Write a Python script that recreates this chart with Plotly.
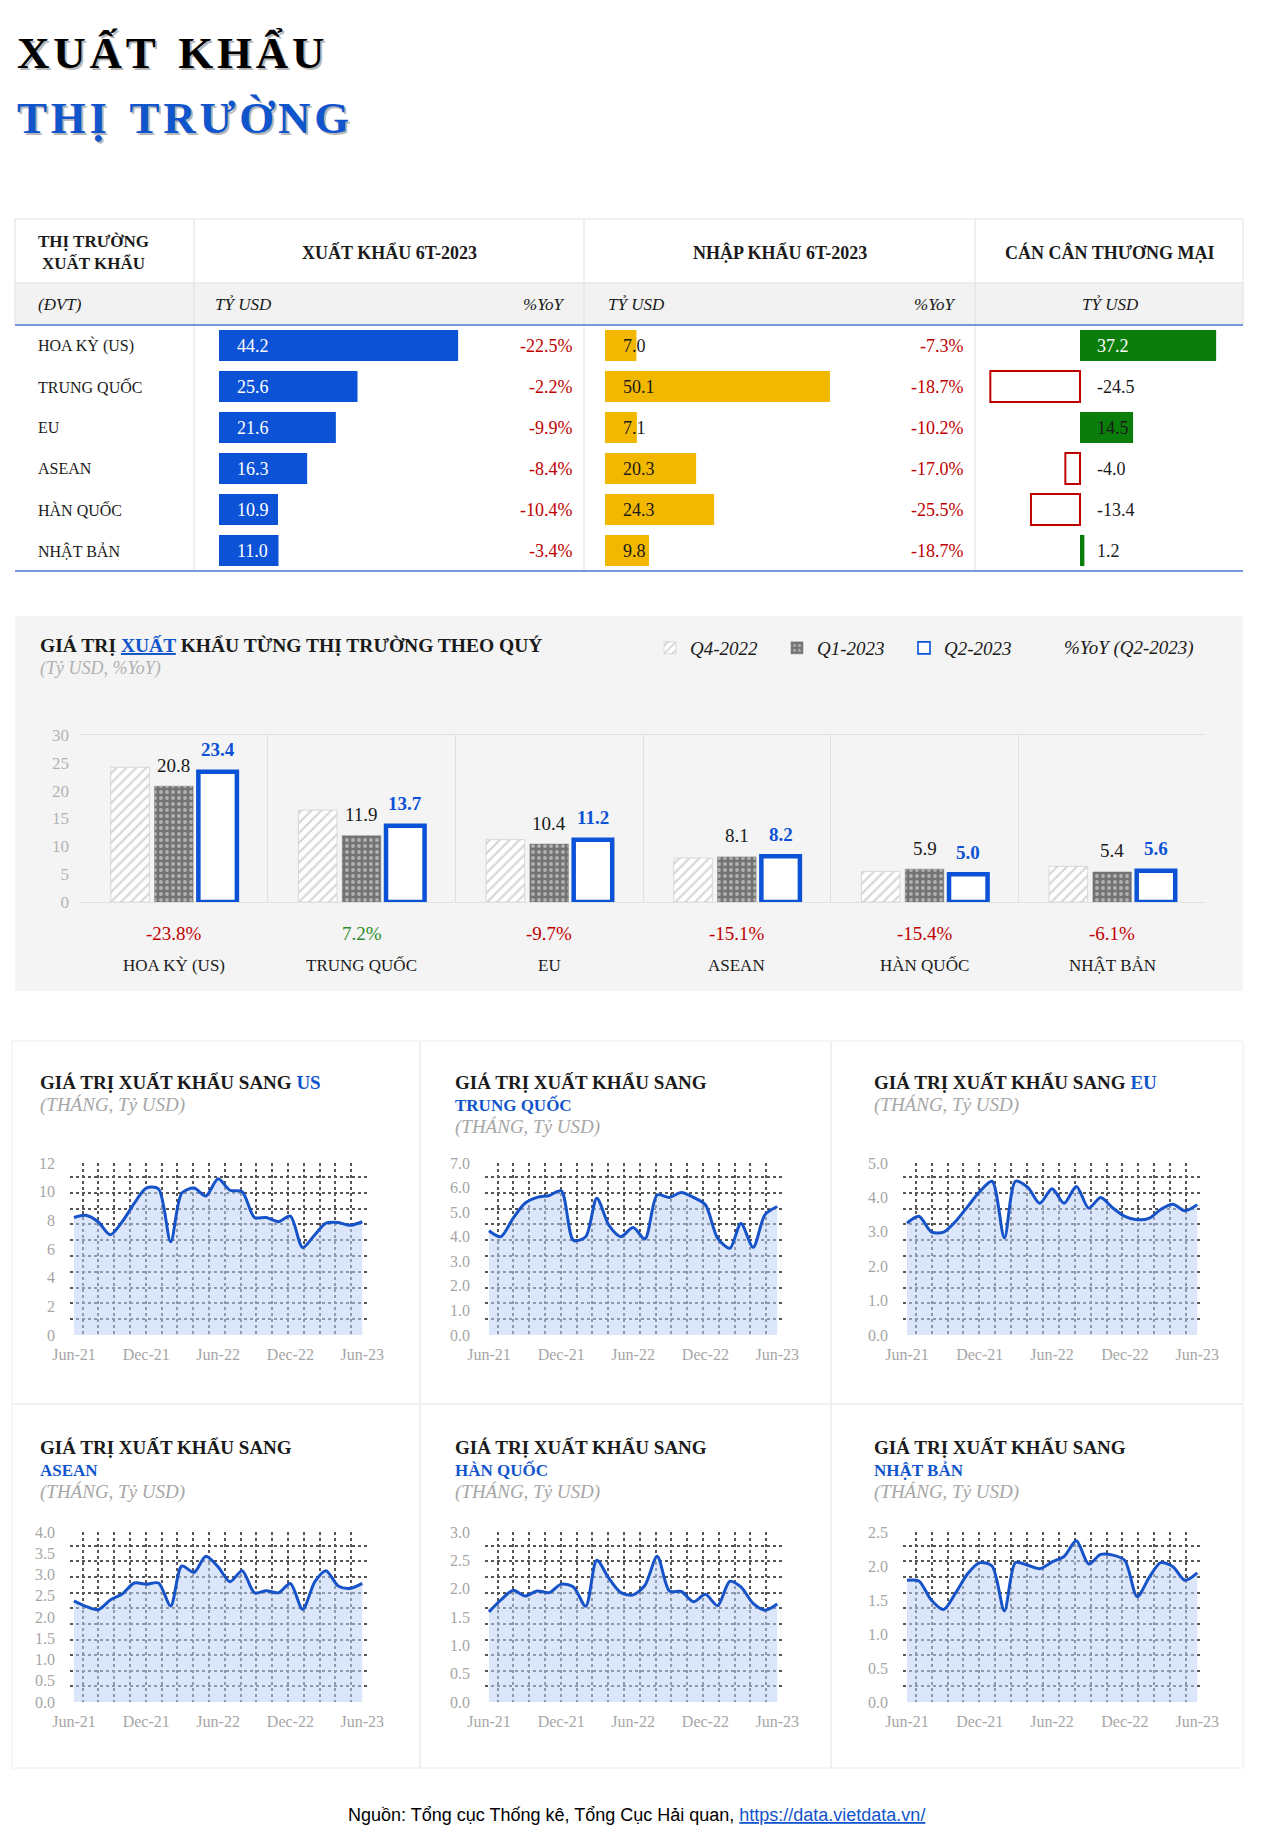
import pandas as pd
import plotly.graph_objects as go

W, H = 1280, 1839


def fx(x):
    return x / W


def fy(y):
    return 1 - y / H


SERIF = "Liberation Serif, Times New Roman, serif"
SANS = "Liberation Sans, Arial, sans-serif"
INK = "#1a1a1a"
BLUE_TXT = "#1155cc"
BAR_BLUE = "#0b52d6"
GOLD = "#f2b800"
GREEN = "#0b7d0b"
RED = "#c00000"
POS_GREEN = "#2e8b2e"
GRAY_TXT = "#a6a6a6"
LINE_BLUE = "#1652c8"

# ---- table: 6 months 2023 ----
markets = ["HOA KỲ (US)", "TRUNG QUỐC", "EU", "ASEAN", "HÀN QUỐC", "NHẬT BẢN"]
export_6t = [44.2, 25.6, 21.6, 16.3, 10.9, 11.0]
export_yoy = [-22.5, -2.2, -9.9, -8.4, -10.4, -3.4]
import_6t = [7.0, 50.1, 7.1, 20.3, 24.3, 9.8]
import_yoy = [-7.3, -18.7, -10.2, -17.0, -25.5, -18.7]
balance = [37.2, -24.5, 14.5, -4.0, -13.4, 1.2]

# ---- quarterly exports ----
quarters = ["Q4-2022", "Q1-2023", "Q2-2023"]
q4_2022 = [24.2, 16.5, 11.2, 7.9, 5.5, 6.4]
q1_2023 = [20.8, 11.9, 10.4, 8.1, 5.9, 5.4]
q2_2023 = [23.4, 13.7, 11.2, 8.2, 5.0, 5.6]
yoy_q2 = [-23.8, 7.2, -9.7, -15.1, -15.4, -6.1]

# ---- monthly exports Jun-21 .. Jun-23 ----
months = pd.date_range("2021-06-01", "2023-06-01", freq="MS")
us = [8.2, 8.35, 7.9, 7.0, 7.9, 9.2, 10.25, 10.2, 6.5, 9.9, 10.25, 9.7, 10.9,
      10.1, 10.0, 8.2, 8.2, 7.9, 8.3, 6.1, 7.0, 7.8, 7.85, 7.65, 7.9]
tq = [4.24, 4.0, 4.75, 5.37, 5.6, 5.68, 5.87, 3.85, 4.0, 5.57, 4.46, 4.0, 4.37,
      3.91, 5.7, 5.6, 5.8, 5.6, 5.3, 3.94, 3.53, 4.54, 3.57, 4.9, 5.23]
eu = [3.25, 3.45, 3.0, 2.99, 3.3, 3.74, 4.17, 4.47, 2.82, 4.47, 4.29, 3.83, 4.25,
      3.83, 4.32, 3.69, 4.0, 3.69, 3.45, 3.35, 3.4, 3.65, 3.8, 3.61, 3.79]
asean = [2.38, 2.25, 2.17, 2.4, 2.54, 2.8, 2.77, 2.8, 2.26, 3.2, 3.05, 3.43, 3.18,
         2.83, 3.09, 2.57, 2.62, 2.57, 2.79, 2.18, 2.83, 3.09, 2.73, 2.67, 2.79]
hq = [1.59, 1.8, 1.97, 1.87, 1.96, 1.93, 2.08, 2.03, 1.69, 2.5, 2.18, 1.93, 1.89,
      2.06, 2.57, 1.96, 1.95, 1.77, 1.9, 1.7, 2.13, 2.03, 1.74, 1.62, 1.73]
nb = [1.79, 1.78, 1.5, 1.36, 1.6, 1.89, 2.05, 2.0, 1.34, 2.05, 2.01, 1.96, 2.06,
      2.14, 2.37, 2.03, 2.17, 2.16, 2.08, 1.55, 1.84, 2.05, 1.99, 1.79, 1.9]

fig = go.Figure()
annotations = []
shapes = []


def note(text, x, y, size=16, color=INK, xanchor="left", xref="paper",
         yref="paper", family=SERIF, yanchor="middle", **kw):
    d = dict(text=text, x=x, y=y, xref=xref, yref=yref, xanchor=xanchor,
             yanchor=yanchor, showarrow=False,
             font=dict(family=family, size=size, color=color))
    d.update(kw)
    annotations.append(d)


def line(x0, y0, x1, y1, color="#e0e0e0", width=1):
    shapes.append(dict(type="line", xref="paper", yref="paper",
                       x0=fx(x0), y0=fy(y0), x1=fx(x1), y1=fy(y1),
                       line=dict(color=color, width=width)))


def rect(x0, y0, x1, y1, fill=None, color=None, width=1):
    shapes.append(dict(type="rect", xref="paper", yref="paper", layer="below",
                       x0=fx(x0), y0=fy(y0), x1=fx(x1), y1=fy(y1),
                       fillcolor=fill or "rgba(0,0,0,0)",
                       line=dict(color=color or "rgba(0,0,0,0)", width=width)))


# ---- big title ----
def spaced(s):
    return "\u2002".join("\u200a".join(w) for w in s.split())


for txt, yc, col in [("XUẤT KHẨU", 52, "#000000"), ("THỊ TRƯỜNG", 118, BLUE_TXT)]:
    note(f"<b>{spaced(txt)}</b>", fx(15), fy(yc), size=45, color="rgba(0,0,0,0.28)",
         xshift=2, yshift=-2)
    note(f"<b>{spaced(txt)}</b>", fx(15), fy(yc), size=45, color=col)

# ---- table ----
rect(15, 283, 1243, 325, fill="#f2f2f2")
line(15, 219, 1243, 219)
line(15, 219, 15, 325)
line(1243, 219, 1243, 325)
line(15, 283, 1243, 283)
for xv in [194, 584, 975]:
    line(xv, 219, xv, 571)
line(15, 325, 1243, 325, color="#4a78d0", width=1.5)
line(15, 571, 1243, 571, color="#4a78d0", width=1.5)

note("<b>THỊ TRƯỜNG<br>XUẤT KHẨU</b>", fx(36), fy(252), size=17)
note("<b>XUẤT KHẨU 6T-2023</b>", fx(389), fy(252), size=18, xanchor="center")
note("<b>NHẬP KHẨU 6T-2023</b>", fx(780), fy(252), size=18, xanchor="center")
note("<b>CÁN CÂN THƯƠNG MẠI</b>", fx(1110), fy(252), size=18, xanchor="center")
note("<i>(ĐVT)</i>", fx(36), fy(304), size=17)
note("<i>TỶ USD</i>", fx(213), fy(304), size=17)
note("<i>%YoY</i>", fx(567), fy(304), size=17, xanchor="right")
note("<i>TỶ USD</i>", fx(606), fy(304), size=17)
note("<i>%YoY</i>", fx(958), fy(304), size=17, xanchor="right")
note("<i>TỶ USD</i>", fx(1110), fy(304), size=17, xanchor="center")

fig.add_trace(go.Bar(y=markets, x=export_6t, orientation="h", width=0.76,
                     marker=dict(color=BAR_BLUE, line=dict(width=0)),
                     xaxis="x", yaxis="y", showlegend=False, hoverinfo="skip"))
fig.add_trace(go.Bar(y=markets, x=import_6t, orientation="h", width=0.76,
                     marker=dict(color=GOLD, line=dict(width=0)),
                     xaxis="x2", yaxis="y2", showlegend=False, hoverinfo="skip"))
fig.add_trace(go.Bar(y=markets, x=balance, orientation="h", width=0.76,
                     marker=dict(color=[GREEN if v > 0 else "white" for v in balance],
                                 line=dict(color=[GREEN if v > 0 else RED for v in balance],
                                           width=[0 if v > 0 else 2 for v in balance])),
                     xaxis="x3", yaxis="y3", showlegend=False, hoverinfo="skip"))

for m, ev, ey, iv, iy, bv in zip(markets, export_6t, export_yoy, import_6t,
                                 import_yoy, balance):
    note(m, fx(36), m, yref="y", size=16)
    note(f"{ev:.1f}", 0, m, xref="x", yref="y", xshift=16, size=18, color="white")
    note(f"{ey:.1f}%", fx(575), m, yref="y", size=18, color=RED, xanchor="right")
    note(f"{iv:.1f}", 0, m, xref="x2", yref="y2", xshift=16, size=18)
    note(f"{iy:.1f}%", fx(966), m, yref="y", size=18, color=RED, xanchor="right")
    note(f"{bv:.1f}", 0, m, xref="x3", yref="y3", xshift=15, size=18,
         color="white" if bv > 20 else INK)

# ---- quarterly bar chart ----
rect(15, 616, 1243, 991, fill="#f4f4f4")
note("<b>GIÁ TRỊ <span style='color:#1155cc;text-decoration:underline'>XUẤT</span>"
     " KHẨU TỪNG THỊ TRƯỜNG THEO QUÝ</b>", fx(38), fy(645), size=19.5)
note("<i>(Tỷ USD, %YoY)</i>", fx(38), fy(669), size=18, color="#b0b0b0")
note("<i>%YoY (Q2-2023)</i>", fx(1062), fy(648), size=19)

q4_marker = dict(color="white", line=dict(color="#d0d0d0", width=0.8),
                 pattern=dict(shape="/", fgcolor="#aaaaaa", size=7, solidity=0.3,
                              fillmode="overlay"))
q1_marker = dict(color="#737373", line=dict(color="#737373", width=0.5),
                 pattern=dict(shape=".", fgcolor="#f2f2f2", size=6, solidity=0.32,
                              fillmode="overlay"))
q2_marker = dict(color="white", line=dict(color=BAR_BLUE, width=4.5))

for vals, mk in zip([q4_2022, q1_2023, q2_2023], [q4_marker, q1_marker, q2_marker]):
    fig.add_trace(go.Bar(x=markets, y=vals, xaxis="x4", yaxis="y4", hoverinfo="skip",
                         marker=mk, showlegend=False))

# legend entries (drawn on a hidden subplot so the icons can use thin outlines)
legend_markers = [q4_marker, q1_marker,
                  dict(color="white", line=dict(color=BAR_BLUE, width=1.6))]
for q, mk in zip(quarters, legend_markers):
    fig.add_trace(go.Bar(x=[q], y=[0], name=q, marker=mk, xaxis="x11", yaxis="y11",
                         hoverinfo="skip"))

# value labels over Q1 (middle bar) and Q2 (right bar); 43.8 px = one bar slot
for m, a, b in zip(markets, q1_2023, q2_2023):
    note(f"{a:.1f}", m, a, xref="x4", yref="y4", xanchor="center", size=19,
         yshift=21)
    note(f"<b>{b:.1f}</b>", m, b, xref="x4", yref="y4", xanchor="center", size=19,
         color=BAR_BLUE, xshift=43.8, yshift=22)

for m, v in zip(markets, yoy_q2):
    note(f"{v:.1f}%", m, fy(933), xref="x4", size=19, xanchor="center",
         color=RED if v < 0 else POS_GREEN)
    note(m, m, fy(965), xref="x4", size=17, xanchor="center")

# ---- monthly small multiples ----
small = [("US", us, True), ("TRUNG QUỐC", tq, False), ("EU", eu, True),
         ("ASEAN", asean, False), ("HÀN QUỐC", hq, False), ("NHẬT BẢN", nb, False)]
y_max = [12, 7, 5, 4, 3, 2.5]
y_step = [2, 1, 1, 0.5, 0.5, 0.5]
col_x = [(70, 367), (485, 782), (903, 1202)]
col_title_x = [38, 453, 872]
row_y = [(1163, 1335), (1532, 1702)]
row_title_y = [1082, 1447]

col_edges = [12, 420, 831, 1243]
row_edges = [1041, 1404, 1768]
for i in range(3):
    for j in range(2):
        rect(col_edges[i], row_edges[j], col_edges[i + 1], row_edges[j + 1],
             color="#ececec", width=1)

x_rng = [str(months[0] - pd.Timedelta(days=10)), str(months[-1] + pd.Timedelta(days=12))]
axes = {}
for k, (name, vals, inline) in enumerate(small):
    n = k + 5
    c, r = k % 3, k // 3
    ax = f"x{n}"
    ay = f"y{n}"
    fig.add_trace(go.Scatter(
        x=months, y=vals, mode="lines", xaxis=ax, yaxis=ay, showlegend=False,
        hoverinfo="skip", line=dict(color=LINE_BLUE, width=3, shape="spline",
                                    smoothing=0.8),
        fill="tozeroy", fillcolor="rgba(190,210,245,0.55)"))
    ymax = y_max[k]
    axes[f"xaxis{n}"] = dict(
        domain=[fx(col_x[c][0]), fx(col_x[c][1])], anchor=ay, type="date",
        range=x_rng, tick0="2021-06-01", dtick="M6", tickformat="%b-%y",
        showgrid=False, zeroline=False, showline=False, ticks="", automargin=False,
        ticklabelstandoff=8, tickfont=dict(family=SERIF, size=16, color=GRAY_TXT),
        minor=dict(showgrid=True, gridcolor="#555555", griddash="dot", gridwidth=1.6,
                   dtick=40 * 86400000, tick0="2021-06-23"))
    axes[f"yaxis{n}"] = dict(
        domain=[fy(row_y[r][1]), fy(row_y[r][0])], anchor=ax, range=[0, ymax],
        dtick=y_step[k], tickformat="d" if k == 0 else ".1f",
        showgrid=False, zeroline=False, showline=False, ticks="", automargin=False,
        ticklabelstandoff=14, tickfont=dict(family=SERIF, size=16, color=GRAY_TXT),
        minor=dict(showgrid=True, gridcolor="#555555", griddash="dot", gridwidth=1.6,
                   dtick=ymax * 15.8 / 172, tick0=0))
    tx, ty = col_title_x[c], row_title_y[r]
    head = "<b>GIÁ TRỊ XUẤT KHẨU SANG"
    if inline:
        note(f"{head} <span style='color:{BLUE_TXT}'>{name}</span></b>", fx(tx), fy(ty), size=19)
        note("<i>(THÁNG, Tỷ USD)</i>", fx(tx), fy(ty + 23), size=19, color=GRAY_TXT)
    else:
        note(f"{head}</b>", fx(tx), fy(ty), size=19)
        note(f"<b>{name}</b>", fx(tx), fy(ty + 23), size=17, color=BLUE_TXT)
        note("<i>(THÁNG, Tỷ USD)</i>", fx(tx), fy(ty + 45), size=19, color=GRAY_TXT)

# ---- source ----
note("Nguồn: Tổng cục Thống kê, Tổng Cục Hải quan, "
     "<span style='color:#1155cc;text-decoration:underline'>https://data.vietdata.vn/</span>",
     fx(636), fy(1815), size=18, family=SANS, xanchor="center", color="#000000")

fig.update_layout(
    width=W, height=H, margin=dict(l=0, r=0, t=0, b=0, autoexpand=False),
    paper_bgcolor="white", plot_bgcolor="rgba(0,0,0,0)",
    barmode="group", bargap=0.3, bargroupgap=0.12, hovermode=False,
    font=dict(family=SERIF, color=INK),
    xaxis=dict(domain=[fx(219), fx(575)], range=[0, (575 - 219) / 5.41],
               visible=False, anchor="y", fixedrange=True),
    yaxis=dict(domain=[fy(571), fy(325)], type="category", categoryarray=markets,
               autorange="reversed", visible=False, anchor="x"),
    xaxis2=dict(domain=[fx(605), fx(966)], range=[0, (966 - 605) / 4.49],
                visible=False, anchor="y2"),
    yaxis2=dict(domain=[fy(571), fy(325)], type="category", categoryarray=markets,
                autorange="reversed", visible=False, anchor="x2"),
    xaxis3=dict(domain=[fx(975), fx(1243)],
                range=[-(1080 - 975) / 3.66, (1243 - 1080) / 3.66],
                visible=False, anchor="y3"),
    yaxis3=dict(domain=[fy(571), fy(325)], type="category", categoryarray=markets,
                autorange="reversed", visible=False, anchor="x3"),
    xaxis4=dict(domain=[fx(80), fx(1206)], anchor="y4", type="category",
                categoryarray=markets, showticklabels=False, ticks="", automargin=False,
                showgrid=True, gridcolor="#e0e0e0", tickson="boundaries",
                showline=True, linecolor="#e0e0e0", mirror=True),
    yaxis4=dict(domain=[fy(902), fy(735)], anchor="x4", range=[0, 30], dtick=5,
                showgrid=False, zeroline=False, ticks="", ticklabelstandoff=10,
                automargin=False,
                tickfont=dict(family=SERIF, size=17, color="#b3b3b3")),
    xaxis11=dict(domain=[0, 0.01], anchor="y11", visible=False),
    yaxis11=dict(domain=[0, 0.01], anchor="x11", range=[1, 2], visible=False),
    legend=dict(orientation="h", x=fx(650), y=fy(648), xanchor="left",
                yanchor="middle", bgcolor="rgba(0,0,0,0)", entrywidth=82,
                font=dict(family=SERIF, size=19, color=INK, style="italic")),
    annotations=annotations, shapes=shapes,
)
fig.update_layout(**axes)

fig.write_html("out.html", config={"displayModeBar": False},
               post_script="document.body.style.margin='0';")
